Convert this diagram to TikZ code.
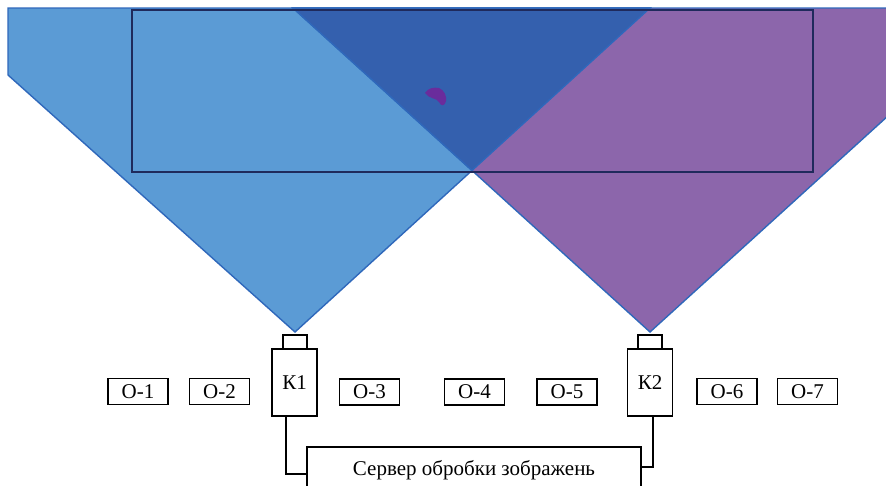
\documentclass[tikz,border=0pt]{standalone}
\usepackage{fontspec}
\setmainfont{Liberation Serif}
\usetikzlibrary{calc}
\definecolor{lblue}{HTML}{5B9BD5}
\definecolor{purp}{HTML}{8C66AB}
\definecolor{dblue}{HTML}{3460AE}
\definecolor{edgeb}{HTML}{2F68BB}
\definecolor{rectc}{HTML}{1F2A5C}
\definecolor{blobc}{HTML}{6A2C9C}
\begin{document}
\begin{tikzpicture}[x=1pt,y=-1pt,
  box/.style={draw=black, line width=1.6pt, fill=white, inner sep=0pt, font=\fontsize{21}{25}\selectfont},
  obox/.style={box, minimum width=60pt, minimum height=26pt},
  cambody/.style={box, minimum width=45pt, minimum height=67pt},
  camlens/.style={box, minimum width=24pt, minimum height=14pt},
  wire/.style={draw=black, line width=2pt},
  fov/.style={draw=edgeb, line width=1.4pt, line join=miter},
  area/.style={draw=rectc, line width=1.6pt}
]
\useasboundingbox (0,0) rectangle (886,485);
\fill[white] (0,0) rectangle (886,485);
\clip (0,0) rectangle (886,485);

% fields of view
\coordinate (a1) at (295,332);
\coordinate (a2) at (650,332);
\coordinate (t1) at (650,8);
\coordinate (t2) at (293,8);
\coordinate (xs) at (intersection of a1--t1 and a2--t2);
\filldraw[fov, fill=lblue] (8,75) -- (8,8) -- (t1) -- (a1) -- cycle;
\filldraw[fov, fill=purp] (t2) -- (900,8) -- (900,105) -- (a2) -- cycle;
\filldraw[fov, fill=dblue] (t2) -- (t1) -- (xs) -- cycle;

% observed area
\draw[area] (132,10) rectangle (813,172);

% blob
\fill[blobc] (425,93) .. controls (428,88) and (434,87) .. (439,88)
  .. controls (444,90) and (447,96) .. (446,101)
  .. controls (445,106) and (441,107) .. (439,102)
  .. controls (437,98) and (429,99) .. (425,93);

% cameras
\node[camlens] (l1) at (295,342) {};
\node[cambody] (k1) at (294.5,382.5) {К1};
\node[camlens] (l2) at (650,342) {};
\node[cambody] (k2) at (650,382.5) {К2};

% objects
\node[obox] (o1) at (138,391.5) {О-1};
\node[obox] (o2) at (219.5,391.5) {О-2};
\node[obox] (o3) at (369.5,392) {О-3};
\node[obox] (o4) at (474.5,392) {О-4};
\node[obox] (o5) at (567,392) {О-5};
\node[obox] (o6) at (727,391.5) {О-6};
\node[obox] (o7) at (807.5,391.5) {О-7};

% server
\node[box, minimum width=334pt, minimum height=46pt] (srv) at (474,470) {Сервер обробки зображень};

% wires
\draw[wire] ([xshift=-8.5pt]k1.south) |- ([yshift=-4pt]srv.west);
\draw[wire] ([xshift=3pt]k2.south) |- ([yshift=3pt]srv.east);
\end{tikzpicture}
\end{document}
